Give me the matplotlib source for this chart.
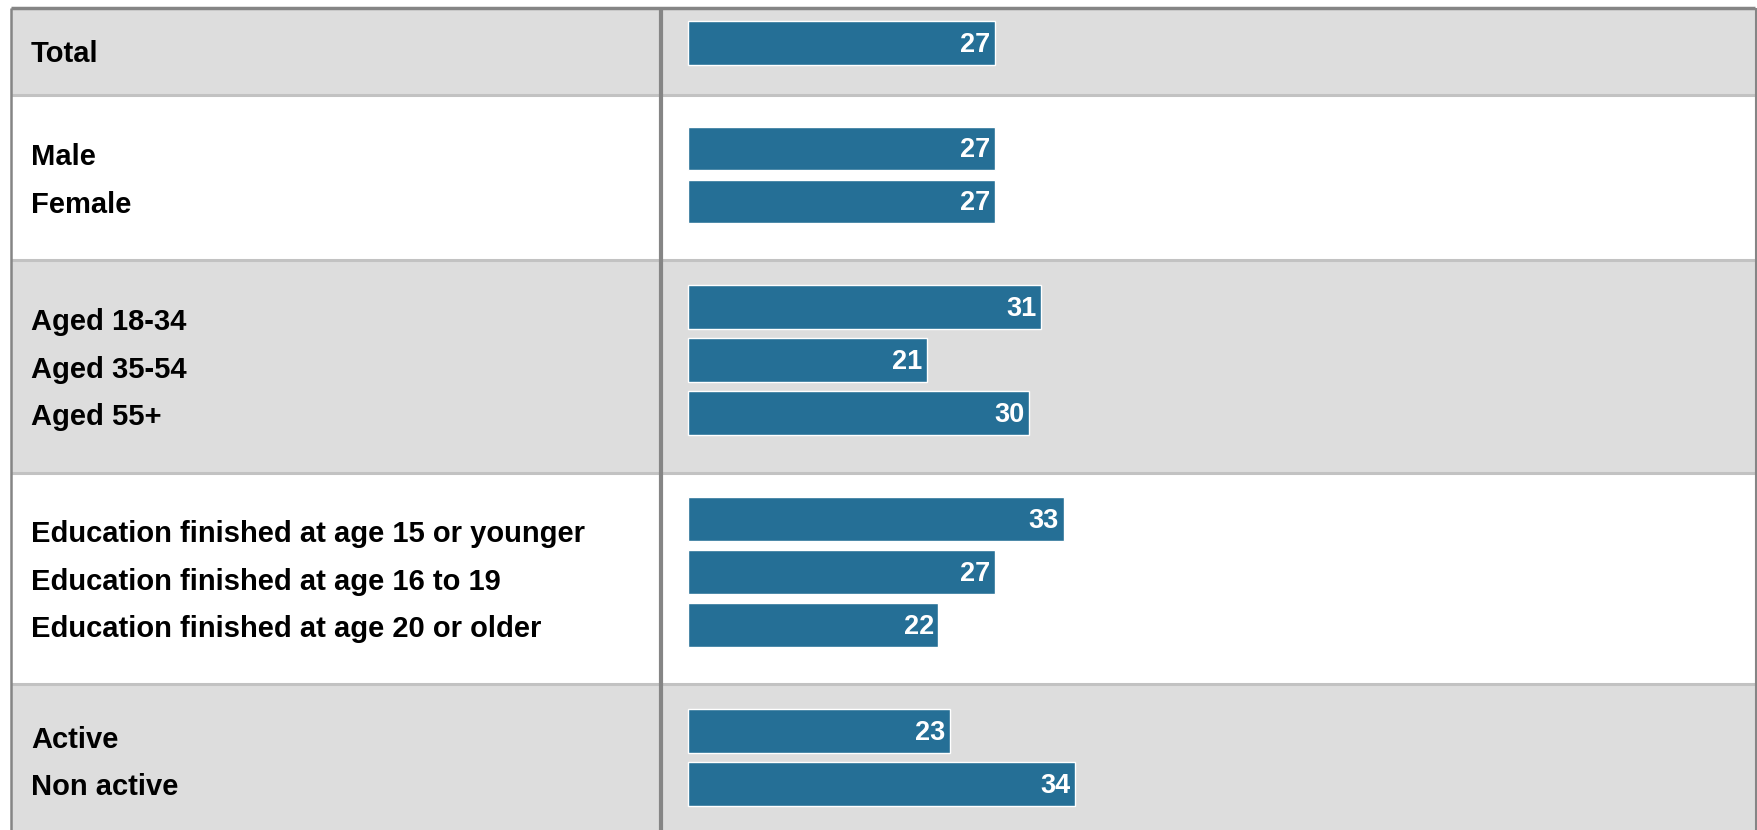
import matplotlib.pyplot as plt
from matplotlib.patches import Rectangle

plt.rcParams['font.family'] = ['Liberation Sans', 'DejaVu Sans']

################## data
groups = [
    ['Total'],
    ['Male', 'Female'],
    ['Aged 18-34', 'Aged 35-54', 'Aged 55+'],
    ['Education finished at age 15 or younger',
     'Education finished at age 16 to 19',
     'Education finished at age 20 or older'],
    ['Active', 'Non active'],
]
values = [
    [27],
    [27, 27],
    [31, 21, 30],
    [33, 27, 22],
    [23, 34],
]

################## layout (pixels of the 1757x830 picture)
W, H = 1757, 830
row_edges = [8, 95, 260.5, 473, 684, 837]   # horizontal cell borders
row_fill = ['#dddddd', '#ffffff', '#dddddd', '#ffffff', '#dddddd']
divider_x = 661
label_x = 31
label_step = 47.5
bar_x0 = 688          # pixel of value 0
px_per_unit = 11.38
slot_px = 52.96       # distance between bars
first_bar_px = 42.6
bar_color = '#256f96'

fig = plt.figure(figsize=(W / 100, H / 100), dpi=100)

# background table in pixel coords
bg = fig.add_axes([0, 0, 1, 1])
bg.set_xlim(0, W)
bg.set_ylim(H, 0)
bg.axis('off')

for i in range(len(groups)):
    top, bot = row_edges[i], row_edges[i + 1]
    bg.add_patch(Rectangle((11, top), 1755 - 11, bot - top, facecolor=row_fill[i],
                           edgecolor='none', zorder=0))
    if i > 0:
        bg.plot([11, 1755], [top, top], color='#c2c2c2', lw=2.2, zorder=1,
                solid_capstyle='butt')
    mid = (top + bot) / 2
    n = len(groups[i])
    for j, name in enumerate(groups[i]):
        y = mid + (j - (n - 1) / 2) * label_step
        bg.text(label_x, y, name, fontsize=21, fontweight='bold', color='#000000',
                ha='left', va='center_baseline', zorder=3)

# outer border and divider
bg.plot([11, 1755], [8, 8], color='#858585', lw=2.5, zorder=2, solid_capstyle='butt')
bg.plot([11, 11], [8, H], color='#858585', lw=1.8, zorder=2, solid_capstyle='butt')
bg.plot([1755.5, 1755.5], [8, H], color='#858585', lw=1.5, zorder=2, solid_capstyle='butt')
bg.plot([divider_x, divider_x], [8, H], color='#858585', lw=3, zorder=2, solid_capstyle='butt')

################## bars
ax = fig.add_axes([0, 0, 1, 1])
ax.patch.set_alpha(0)
ax.axis('off')
ax.set_xlim(-bar_x0 / px_per_unit, (W - bar_x0) / px_per_unit)
ax.set_ylim((H - first_bar_px) / slot_px, -first_bar_px / slot_px)

pos = []
vals = []
k = 0
for g, v in zip(groups, values):
    for val in v:
        pos.append(k)
        vals.append(val)
        k += 1
    k += 1  # blank slot between groups

ax.barh(pos, vals, height=0.83, color=bar_color, edgecolor='white', linewidth=1.0, zorder=3)
for p, v in zip(pos, vals):
    ax.text(v - 0.4, p - 0.02, str(v), color='white', fontsize=19.5, fontweight='bold',
            ha='right', va='center_baseline', zorder=4)

fig.savefig('out.png', dpi=100)
